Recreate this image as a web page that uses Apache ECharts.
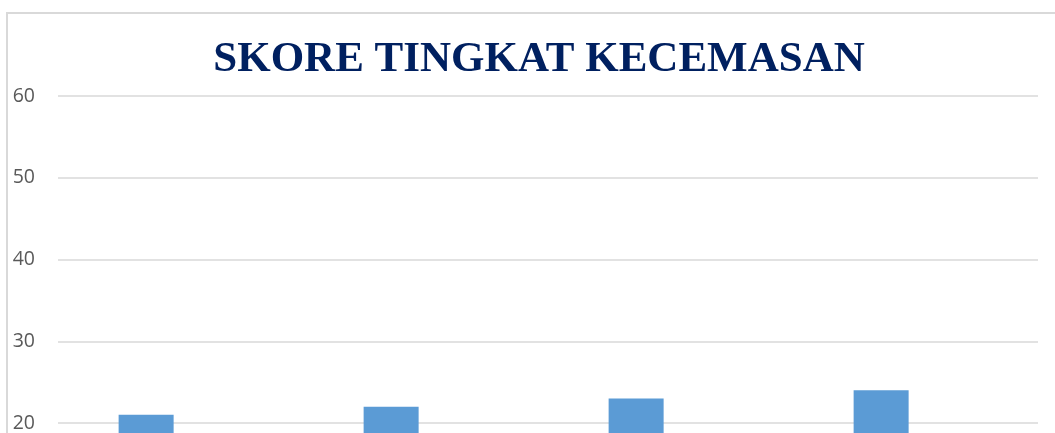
<!DOCTYPE html>
<html>
<head>
<meta charset="utf-8">
<script src="https://cdn.jsdelivr.net/npm/echarts@6/dist/echarts.min.js"></script>
<style>
  html, body { margin: 0; padding: 0; width: 1055px; height: 433px; overflow: hidden; background: #fff; }
  #chart { position: absolute; left: 0; top: 0; width: 1055px; height: 660px; }
</style>
</head>
<body>
<div id="chart"></div>
<script>
// data (the bottom part of the chart is cut off in the reference)
var categories = ["1", "2", "3", "4"];
var skor = [21, 22, 23, 24];
var hiddenSeries = [null, null, null, null]; // second series sits below the visible area
var yTicks = { min: 0, max: 60, interval: 10 };

var myChart = echarts.init(document.getElementById("chart"), null, { renderer: "canvas" });

var option = {
  animation: false,
  title: {
    text: "SKORE TINGKAT KECEMASAN",
    left: 534,
    textAlign: "center",
    top: 33,
    textStyle: {
      fontFamily: "Liberation Serif",
      fontWeight: "bold",
      fontSize: 43,
      color: "#002060",
    },
  },
  graphic: [
    {
      type: "rect",
      shape: { x: 7, y: 13, width: 1200, height: 1000 },
      style: { fill: "none", stroke: "#d9d9d9", lineWidth: 2 },
      silent: true,
    },
  ],
  grid: {
    left: 58,
    top: 96,
    width: 980,
    height: 490.5,
    containLabel: false,
    outerBoundsMode: "none",
  },
  xAxis: {
    type: "category",
    data: categories,
    axisLine: { show: true, lineStyle: { color: "#d9d9d9", width: 1.5 } },
    axisTick: { show: false },
    axisLabel: { color: "#595959", fontSize: 18 },
  },
  yAxis: {
    type: "value",
    min: yTicks.min,
    max: yTicks.max,
    interval: yTicks.interval,
    axisLine: { show: false },
    axisTick: { show: false },
    axisLabel: {
      color: "#595959",
      fontSize: 19.5,
      fontFamily: "Open Sans",
      margin: 23,
    },
    splitLine: { lineStyle: { color: "#d9d9d9", width: 1.5 } },
  },
  series: [
    {
      name: "Skor",
      type: "bar",
      barWidth: 55,
      barGap: "25%",
      itemStyle: { color: "#5b9bd5" },
      data: skor,
    },
    {
      name: "Skor 2",
      type: "bar",
      barWidth: 55,
      itemStyle: { color: "#ed7d31" },
      data: hiddenSeries,
    },
  ],
};

myChart.setOption(option);
window.addEventListener("resize", myChart.resize);
</script>
</body>
</html>
